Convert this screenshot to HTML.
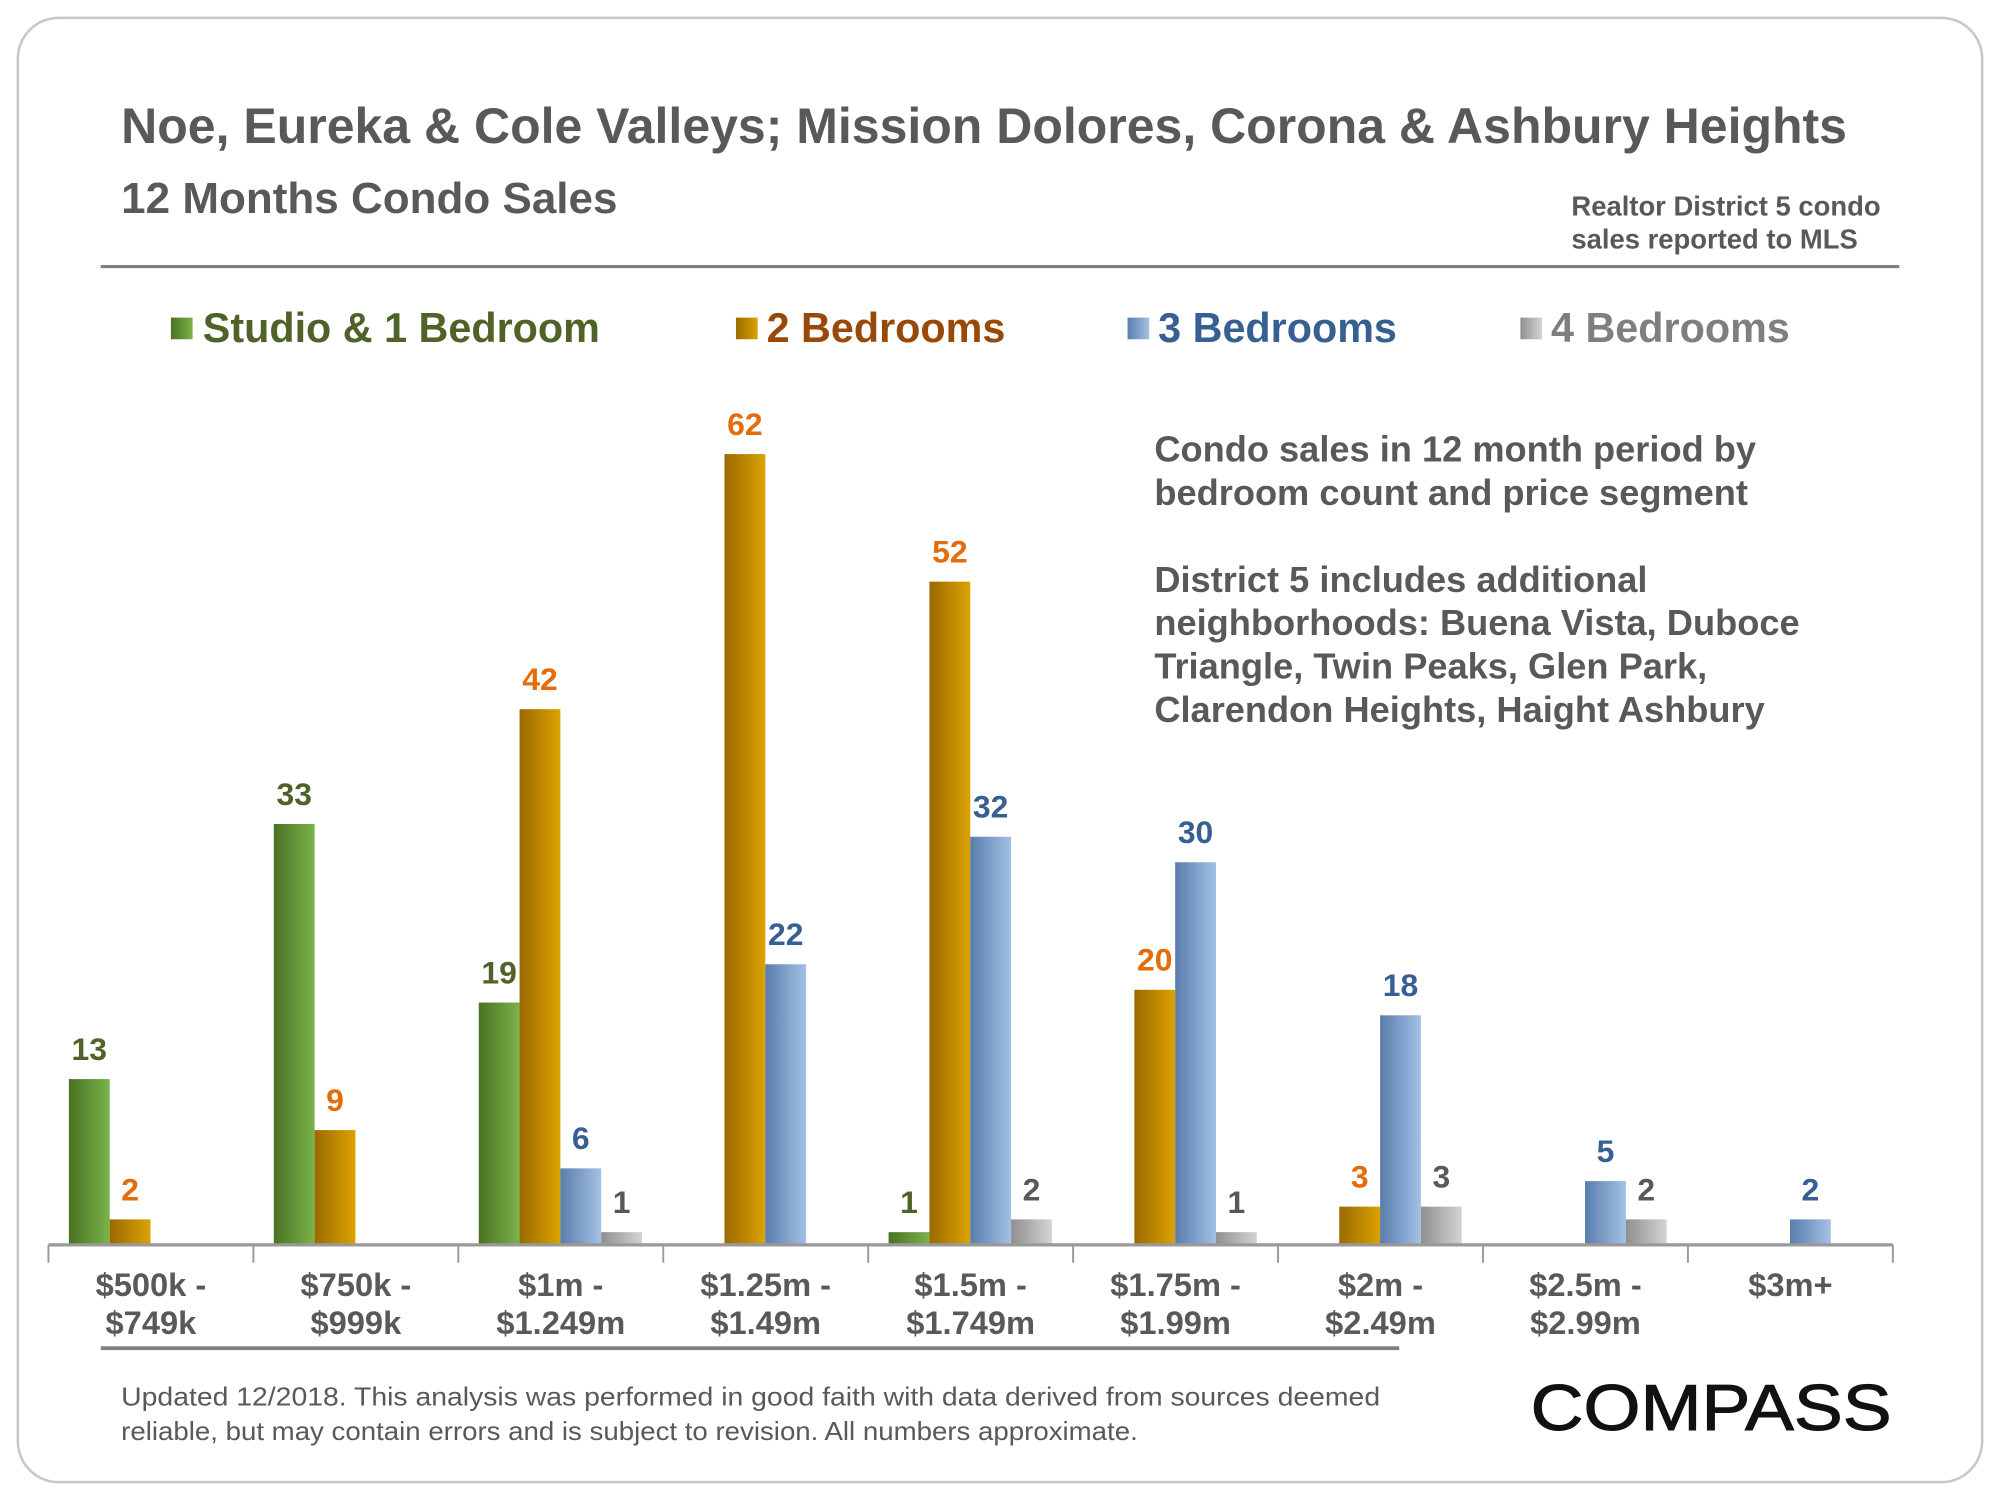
<!DOCTYPE html>
<html><head><meta charset="utf-8">
<style>
html,body{margin:0;padding:0;background:#fff;width:2000px;height:1500px;overflow:hidden}
#wrap{position:absolute;left:0;top:0;width:1568px;height:1176px;transform:scale(1.27551);transform-origin:0 0}
svg text{font-family:"Liberation Sans",Arial,sans-serif}
</style></head>
<body>
<div id="wrap">
<svg id="chart" width="1568" height="1176" viewBox="0 0 1568 1176">
<defs>
<linearGradient id="gG" x1="0" x2="1" y1="0" y2="0"><stop offset="0" stop-color="#4a7224"/><stop offset="1" stop-color="#7ab34a"/></linearGradient>
<linearGradient id="gO" x1="0" x2="1" y1="0" y2="0"><stop offset="0" stop-color="#9a6a00"/><stop offset="1" stop-color="#dca200"/></linearGradient>
<linearGradient id="gB" x1="0" x2="1" y1="0" y2="0"><stop offset="0" stop-color="#5a7dab"/><stop offset="1" stop-color="#a2c1e6"/></linearGradient>
<linearGradient id="gR" x1="0" x2="1" y1="0" y2="0"><stop offset="0" stop-color="#8f8f8f"/><stop offset="1" stop-color="#d4d4d4"/></linearGradient>
</defs>
<rect x="14" y="14" width="1540" height="1148" rx="32" fill="#fff" stroke="#c8c8c8" stroke-width="2"/>
<text x="95" y="112" font-size="39.2" font-weight="bold" fill="#595959">Noe, Eureka &amp; Cole Valleys; Mission Dolores, Corona &amp; Ashbury Heights</text>
<text x="95" y="167" font-size="34.5" font-weight="bold" fill="#595959">12 Months Condo Sales</text>
<text x="1232" y="169" font-size="21.5" font-weight="bold" fill="#595959"><tspan x="1232">Realtor District 5 condo</tspan><tspan x="1232" y="195">sales reported to MLS</tspan></text>
<line x1="79" y1="209" x2="1489" y2="209" stroke="#808080" stroke-width="2.5"/>
<g>
<g><rect x="134" y="249" width="17" height="17" fill="url(#gG)"/><text x="159" y="268" font-size="32.4" font-weight="bold" fill="#4f6228">Studio &amp; 1 Bedroom</text></g>
<g><rect x="577" y="249" width="17" height="17" fill="url(#gO)"/><text x="601" y="268" font-size="32.4" font-weight="bold" fill="#984807">2 Bedrooms</text></g>
<g><rect x="884" y="249" width="17" height="17" fill="url(#gB)"/><text x="908" y="268" font-size="32.4" font-weight="bold" fill="#376092">3 Bedrooms</text></g>
<g><rect x="1192" y="249" width="17" height="17" fill="url(#gR)"/><text x="1216" y="268" font-size="32.4" font-weight="bold" fill="#7f7f7f">4 Bedrooms</text></g>
</g>
<text font-size="28.4" font-weight="bold" fill="#595959">
<tspan x="905" y="362">Condo sales in 12 month period by</tspan>
<tspan x="905" y="396">bedroom count and price segment</tspan>
<tspan x="905" y="464">District 5 includes additional</tspan>
<tspan x="905" y="498">neighborhoods: Buena Vista, Duboce</tspan>
<tspan x="905" y="532">Triangle, Twin Peaks, Glen Park,</tspan>
<tspan x="905" y="566">Clarendon Heights, Haight Ashbury</tspan>
</text>
<g id="bars"></g>
<g id="xaxis"></g>
<line x1="79" y1="1057" x2="1097" y2="1057" stroke="#808080" stroke-width="3"/>
<g>
<text x="95" y="1102" font-size="20.5" fill="#595959" textLength="987" lengthAdjust="spacingAndGlyphs">Updated 12/2018. This analysis was performed in good faith with data derived from sources deemed</text>
<text x="95" y="1129" font-size="20.5" fill="#595959" textLength="797" lengthAdjust="spacingAndGlyphs">reliable, but may contain errors and is subject to revision. All numbers approximate.</text>
</g>
<text x="1200" y="1121" font-size="51" fill="#111" stroke="#111" stroke-width="0.8" textLength="283" lengthAdjust="spacingAndGlyphs">COMPASS</text>
</svg>
</div>
<script>
const categoriesL1 = ["$500k -","$750k -","$1m -","$1.25m -","$1.5m -","$1.75m -","$2m -","$2.5m -","$3m+"];
const categoriesL2 = ["$749k","$999k","$1.249m","$1.49m","$1.749m","$1.99m","$2.49m","$2.99m",""];
const studio = [13,33,19,0,1,0,0,0,0];
const bed2 = [2,9,42,62,52,20,3,0,0];
const bed3 = [0,0,6,22,32,30,18,5,2];
const bed4 = [0,0,1,0,2,1,3,2,0];

const NS = "http://www.w3.org/2000/svg";
const X0 = 38, X1 = 1484, BASE = 976, PX_PER = 10, BW = 32;
const catW = (X1 - X0) / categoriesL1.length;
function xCat(i){ return X0 + i * catW; }
function yVal(v){ return BASE - v * PX_PER; }
function mk(tag, attrs){ const e = document.createElementNS(NS, tag); for (const k in attrs) e.setAttribute(k, attrs[k]); return e; }

const series = [
  {vals: studio, fill: "url(#gG)", lab: "#4f6228", key: "studio"},
  {vals: bed2, fill: "url(#gO)", lab: "#e46c0a", key: "2br"},
  {vals: bed3, fill: "url(#gB)", lab: "#376092", key: "3br"},
  {vals: bed4, fill: "url(#gR)", lab: "#595959", key: "4br"}
];
const gb = document.getElementById("bars");
series.forEach((s, si) => {
  s.vals.forEach((v, i) => {
    if (!v) return;
    const x = xCat(i) + 16 + si * BW;
    const r = mk("rect", {x: x, y: yVal(v), width: BW, height: BASE - yVal(v), fill: s.fill});
    
    
    gb.appendChild(r);
    const t = mk("text", {x: x + BW/2, y: yVal(v) - 15, "text-anchor": "middle", "font-size": 25, "font-weight": "bold", fill: s.lab});
    t.textContent = v;
    
    
    gb.appendChild(t);
  });
});
const gx = document.getElementById("xaxis");
const ax = mk("line", {x1: X0, y1: BASE, x2: X1, y2: BASE, stroke: "#999", "stroke-width": 2.5});


gx.appendChild(ax);
for (let i = 0; i <= categoriesL1.length; i++) {
  const tk = mk("line", {x1: xCat(i), y1: BASE, x2: xCat(i), y2: BASE + 14, stroke: "#999", "stroke-width": 1.5});
  
  
  gx.appendChild(tk);
}
categoriesL1.forEach((c, i) => {
  const cx = xCat(i) + catW/2;
  const t = mk("text", {x: cx, y: 1016, "text-anchor": "middle", "font-size": 25.6, "font-weight": "bold", fill: "#595959"});
  t.textContent = c;
  
  
  gx.appendChild(t);
  if (categoriesL2[i]) {
    const t2 = mk("text", {x: cx, y: 1046, "text-anchor": "middle", "font-size": 25.6, "font-weight": "bold", fill: "#595959"});
    t2.textContent = categoriesL2[i];
    
    
    gx.appendChild(t2);
  }
});
</script>
</body></html>
